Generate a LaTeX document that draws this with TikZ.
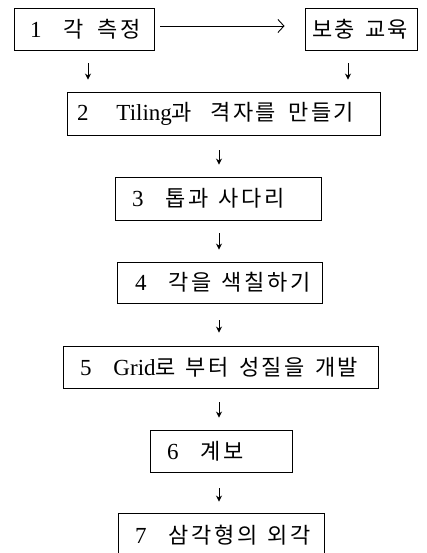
\documentclass[tikz,border=0pt]{standalone}
\usepackage{fontspec}
\setmainfont{Liberation Serif}
\newfontfamily\kr[LetterSpace=12]{Noto Sans CJK KR}
\usetikzlibrary{arrows.meta}
\newcommand\K[1]{{\kr\fontsize{22}{26}\selectfont #1}}
\newcommand\gapN{\hspace{22pt}}
\newcommand\gapW{\hspace{10pt}}
\begin{document}
\begin{tikzpicture}[x=1pt,y=-1pt,
  box/.style={draw, line width=0.9pt, inner ysep=0pt, align=left,
    font=\fontsize{23}{26}\selectfont, minimum height=42pt},
  darr/.style={-{Stealth[length=6pt,width=6pt]}, line width=0.9pt},
  harr/.style={-{Straight Barb[length=6pt,width=13pt,line width=0.9pt]}, line width=0.9pt}]
\useasboundingbox (0,0) rectangle (426,553);
\fill[white] (0,0) rectangle (426,553);
\clip (0,0) rectangle (426,553);
\coordinate (ax) at (219,0);
\node[box, text width=108pt, inner xsep=16pt] (b1) at (84,29) {\mbox{1\gapN\K{각}\hspace{14pt}\K{측정}}};
\node[box, text width=98pt, inner xsep=7pt] (bb) at (361,29) {\mbox{\K{보충}\gapW\K{교육}}};
\node[box, text width=293pt, inner xsep=10pt, minimum height=43pt] (b2) at (223.5,113.5) {\mbox{2\hspace{28pt}Tiling\K{과}\hspace{18pt}\K{격자를}\hspace{12pt}\K{만들기}}};
\node[box, text width=172pt, inner xsep=17pt, minimum height=43pt] (b3) at (218,198.5) {\mbox{3\gapN\K{톱과}\gapW\K{사다리}}};
\node[box, text width=169pt, inner xsep=18pt, minimum height=41pt] (b4) at (219.5,282.5) {\mbox{4\gapN\K{각을}\gapW\K{색칠하기}}};
\node[box, text width=281pt, inner xsep=17pt] (b5) at (220.5,367) {\mbox{5\gapN Grid\K{로}\gapW\K{부터}\gapW\K{성질을}\gapW\K{개발}}};
\node[box, text width=108pt, inner xsep=17pt] (b6) at (221,451) {\mbox{6\gapN\K{계보}}};
\node[box, text width=172pt, inner xsep=17pt, minimum height=44pt] (b7) at (221,535) {\mbox{7\gapN\K{삼각형의}\gapW\K{외각}}};
% arrows
\draw[harr, shorten <=6pt, shorten >=20pt] ([yshift=3pt]b1.east) -- ([yshift=3pt]b1.east -| bb.west);
\draw[darr, shorten <=13pt, shorten >=12pt] ([xshift=4pt]b1.south) -- ([xshift=4pt]b1.south |- b2.north);
\draw[darr, shorten <=13pt, shorten >=12pt] ([xshift=-13pt]bb.south) -- ([xshift=-13pt]bb.south |- b2.north);
\draw[darr, shorten <=15pt, shorten >=12pt] (b2.south -| ax) -- (b3.north -| ax);
\draw[darr, shorten <=13pt, shorten >=12pt] (b3.south -| ax) -- (b4.north -| ax);
\draw[darr, shorten <=17pt, shorten >=13pt] (b4.south -| ax) -- (b5.north -| ax);
\draw[darr, shorten <=14pt, shorten >=12pt] (b5.south -| ax) -- (b6.north -| ax);
\draw[darr, shorten <=16pt, shorten >=11pt] (b6.south -| ax) -- (b7.north -| ax);
\end{tikzpicture}
\end{document}
